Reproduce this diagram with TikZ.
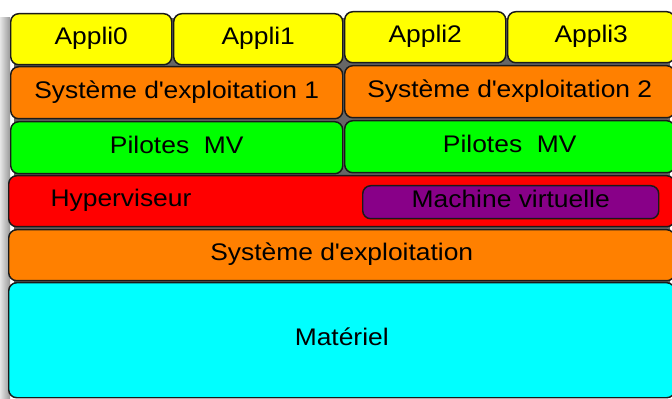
\documentclass[tikz,border=0pt]{standalone}
\usepackage{fontspec}
\setmainfont{Liberation Sans}[FakeStretch=1.1]
\definecolor{appyellow}{HTML}{FFFF00}
\definecolor{osorange}{HTML}{FF8000}
\definecolor{drvgreen}{HTML}{00FF00}
\definecolor{hypred}{HTML}{FF0000}
\definecolor{vmpurple}{HTML}{880088}
\definecolor{hwcyan}{HTML}{00FFFF}
\definecolor{edge}{HTML}{1A1A1A}
\tikzset{
  layerbox/.style={draw=edge, line width=1.1pt, rounded corners=6pt,
    anchor=north west, inner sep=0pt, align=center,
    font=\fontsize{18}{20}\selectfont, text height=0.8em, text depth=0pt},
  labeltext/.style={inner sep=0pt, font=\fontsize{18}{20}\selectfont,
    text height=0.8em, text depth=0pt}
}
% \stackbox{name}{x1}{y1}{x2}{y2}{fill}{text}  (pixel units, y downwards)
\newcommand\stackbox[7]{%
  \node[layerbox, fill=#6, minimum width={(#4-#2)*0.75pt},
        minimum height={(#5-#3)*0.75pt}] (#1) at (#2,#3) {#7};}
\newcommand\apos{\textquotesingle}
\begin{document}
\begin{tikzpicture}[x=0.75pt,y=-0.75pt]
  \useasboundingbox (0,0) rectangle (672,399);
  \clip (0,0) rectangle (672,399);
  \fill[white] (0,0) rectangle (672,399);
  % soft shadow along the left side of the stack
  \shade[left color=black!10, right color=black!40] (0,18) rectangle (10,399);
  % dark backdrop showing through the gaps between the layers
  \fill[black!60] (14,18) rectangle (670,394);

  % applications
  \stackbox{app0}{10}{13}{171}{64}{appyellow}{Appli0}
  \stackbox{app1}{173}{13}{342}{64}{appyellow}{Appli1}
  \stackbox{app2}{344}{11}{505}{62}{appyellow}{Appli2}
  \stackbox{app3}{507}{11}{674}{62}{appyellow}{Appli3}
  % guest operating systems
  \stackbox{os1}{10}{66}{342}{118}{osorange}{Système d\apos exploitation 1}
  \stackbox{os2}{344}{65}{674}{117}{osorange}{Système d\apos exploitation 2}
  % virtual machine drivers
  \stackbox{drv1}{10}{121}{342}{173}{drvgreen}{Pilotes\ \ MV}
  \stackbox{drv2}{344}{120}{674}{172}{drvgreen}{Pilotes\ \ MV}
  % hypervisor with its virtual machine
  \stackbox{hyp}{8}{175}{674}{226}{hypred}{}
  \node[labeltext] (hyplabel) at (121,201) {Hyperviseur};
  \stackbox{vm}{362}{185}{658}{218}{vmpurple}{Machine virtuelle}
  % host operating system and hardware
  \stackbox{hostos}{8}{229}{674}{280}{osorange}{Système d\apos exploitation}
  \stackbox{hw}{8}{282}{674}{397}{hwcyan}{Matériel}
\end{tikzpicture}
\end{document}
